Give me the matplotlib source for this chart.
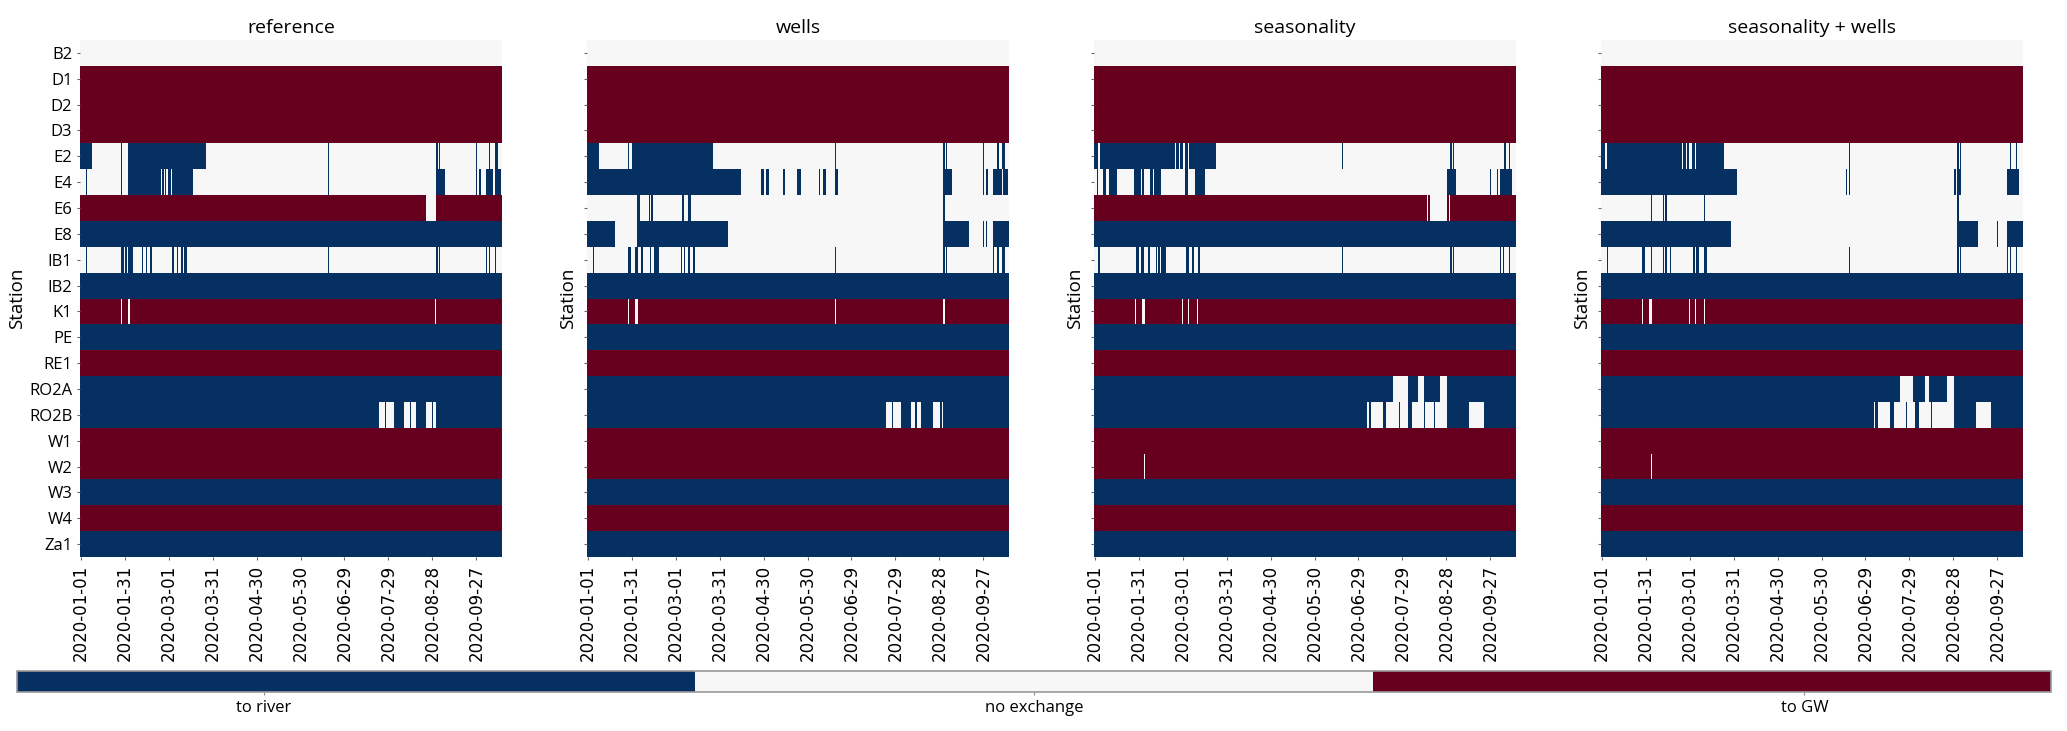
import numpy as np
import pandas as pd
import matplotlib
matplotlib.use('Agg')
import matplotlib.pyplot as plt
from matplotlib.colors import ListedColormap, Normalize

plt.rcParams['font.family'] = ['Open Sans', 'DejaVu Sans']

# exchange direction per station and day: -1 to river, 0 no exchange, 1 to GW
stations = ['B2', 'D1', 'D2', 'D3', 'E2', 'E4', 'E6', 'E8', 'IB1', 'IB2',
            'K1', 'PE', 'RE1', 'RO2A', 'RO2B', 'W1', 'W2', 'W3', 'W4', 'Za1']
n_days = 288
dates = pd.date_range('2020-01-01', periods=n_days, freq='D')

titles = ['reference', 'wells', 'seasonality', 'seasonality + wells']
class_labels = ['to river', 'no exchange', 'to GW']

# default value of each station row (same order as stations)
base_no_wells = [0, 1, 1, 1, 0, 0, 1, -1, 0, -1, 1, -1, 1, -1, -1, 1, 1, -1, 1, -1]
base_wells = [0, 1, 1, 1, 0, 0, 0, 0, 0, -1, 1, -1, 1, -1, -1, 1, 1, -1, 1, -1]

# (station, value, [(first_day, last_day), ...]) deviations from the base row
changes_reference = [
    ('E2', -1, [(0, 7), (28, 28), (33, 85), (169, 169), (243, 243), (245, 245),
                (270, 270), (279, 279), (283, 284)]),
    ('E4', -1, [(4, 4), (28, 28), (33, 54), (56, 56), (58, 58), (60, 61), (63, 76),
                (169, 169), (243, 248), (270, 270), (272, 273), (277, 281), (283, 286)]),
    ('E6', 0, [(236, 242)]),
    ('IB1', -1, [(4, 4), (28, 29), (31, 31), (33, 35), (42, 42), (45, 45), (48, 48),
                 (63, 63), (66, 66), (69, 69), (71, 72), (169, 169), (243, 243),
                 (245, 245), (277, 277), (279, 279), (283, 283)]),
    ('K1', 0, [(28, 28), (33, 33), (242, 242)]),
    ('RO2B', 0, [(204, 207), (209, 213), (221, 224), (226, 228), (236, 239), (241, 242)]),
]

changes_wells = [
    ('E2', -1, [(0, 7), (28, 28), (31, 85), (169, 169), (243, 243), (245, 245),
                (270, 270), (280, 280), (283, 284)]),
    ('E4', -1, [(0, 104), (119, 120), (122, 123), (134, 134), (143, 145), (158, 158),
                (161, 162), (169, 170), (243, 248), (270, 270), (272, 273),
                (277, 282), (284, 286)]),
    ('E6', -1, [(34, 35), (42, 42), (44, 44), (65, 65), (69, 70), (243, 243)]),
    ('E8', -1, [(0, 18), (34, 95), (243, 260), (270, 270), (272, 272), (277, 287)]),
    ('IB1', -1, [(4, 4), (28, 29), (33, 34), (37, 37), (43, 43), (46, 48), (64, 64),
                 (66, 66), (69, 69), (72, 73), (169, 169), (243, 243), (245, 245),
                 (277, 277), (280, 280), (283, 284)]),
    ('K1', 0, [(28, 28), (33, 34), (169, 169), (243, 243)]),
    ('RO2B', 0, [(204, 207), (209, 213), (221, 223), (225, 227), (236, 240), (242, 242)]),
]

changes_seasonality = [
    ('E2', -1, [(0, 2), (4, 54), (56, 57), (59, 60), (62, 63), (65, 82), (169, 169),
                (243, 243), (245, 245), (280, 280), (283, 283)]),
    ('E4', -1, [(2, 2), (6, 7), (10, 15), (27, 31), (33, 33), (38, 39), (41, 45),
                (62, 63), (69, 75), (241, 246), (270, 270), (275, 275), (277, 284)]),
    ('E6', 0, [(227, 227), (229, 240), (242, 242)]),
    ('IB1', -1, [(3, 3), (29, 30), (32, 33), (37, 37), (42, 42), (44, 44), (46, 48),
                 (63, 64), (67, 67), (71, 71), (169, 169), (243, 243), (245, 245),
                 (277, 277), (279, 279), (283, 283)]),
    ('K1', 0, [(28, 28), (33, 34), (60, 60), (64, 64), (70, 70)]),
    ('RO2A', 0, [(204, 213), (221, 224), (236, 240)]),
    ('RO2B', 0, [(186, 187), (189, 196), (199, 207), (209, 213), (217, 224),
                 (226, 231), (233, 240), (256, 265)]),
    ('W2', 0, [(34, 34)]),
]

changes_seasonality_wells = [
    ('E2', -1, [(0, 2), (4, 54), (56, 57), (59, 59), (62, 63), (65, 83), (169, 169),
                (243, 243), (245, 245), (279, 279), (283, 283)]),
    ('E4', -1, [(0, 92), (167, 167), (169, 169), (241, 241), (243, 245), (277, 284)]),
    ('E6', -1, [(34, 34), (42, 42), (44, 44), (70, 70), (243, 243)]),
    ('E8', -1, [(0, 88), (243, 256), (270, 270), (277, 287)]),
    ('IB1', -1, [(4, 4), (28, 29), (34, 34), (42, 42), (44, 44), (47, 47), (63, 63),
                 (65, 66), (70, 71), (169, 169), (243, 243), (245, 245), (277, 277),
                 (279, 279), (283, 283)]),
    ('K1', 0, [(28, 28), (33, 34), (60, 60), (64, 64), (70, 70)]),
    ('RO2A', 0, [(204, 212), (221, 223), (236, 240)]),
    ('RO2B', 0, [(186, 186), (189, 196), (200, 207), (209, 213), (217, 224),
                 (226, 231), (232, 240), (256, 265)]),
    ('W2', 0, [(34, 34)]),
]


def build_matrix(base, changes):
    m = np.repeat(np.array(base, dtype=float)[:, None], n_days, axis=1)
    for station, value, spans in changes:
        i = stations.index(station)
        for a, b in spans:
            m[i, a:b + 1] = value
    return m


panels = [
    build_matrix(base_no_wells, changes_reference),
    build_matrix(base_wells, changes_wells),
    build_matrix(base_no_wells, changes_seasonality),
    build_matrix(base_wells, changes_seasonality_wells),
]

cmap = ListedColormap(['#053061', '#f7f7f7', '#67001f'])
norm = Normalize(vmin=-1.32, vmax=1.32)

W, H = 2067, 731
fig = plt.figure(figsize=(W / 100, H / 100), dpi=100)

lefts = [80, 587, 1094, 1601]
tick_idx = np.arange(0, n_days, 30)
tick_labels = [dates[i].strftime('%Y-%m-%d') for i in tick_idx]

mesh = None
for k, m in enumerate(panels):
    ax = fig.add_axes([lefts[k] / W, (H - 557) / H, 422 / W, 517 / H])
    mesh = ax.pcolormesh(np.arange(n_days + 1), np.arange(len(stations) + 1), m,
                         cmap=cmap, norm=norm, edgecolors='none')
    ax.set_xlim(0, n_days)
    ax.set_ylim(len(stations), 0)
    ax.set_yticks(np.arange(len(stations)) + 0.5)
    if k == 0:
        ax.set_yticklabels(stations, fontsize=12)
    else:
        ax.set_yticklabels([])
    ax.set_xticks(tick_idx + 0.5)
    ax.set_xticklabels(tick_labels, rotation=90, fontsize=12, family='DejaVu Sans')
    ax.tick_params(length=2.5, width=0.8, color='#666666', pad=3)
    for s in ax.spines.values():
        s.set_visible(False)
    ax.set_title(titles[k], fontsize=14, pad=5)
    ax.set_ylabel('Station', fontsize=13.5, labelpad=2)

cax = fig.add_axes([17 / W, 39 / H, 2034 / W, 21 / H])
cb = fig.colorbar(mesh, cax=cax, orientation='horizontal', ticks=[-1, 0, 1])
cb.ax.set_xticklabels(class_labels, fontsize=12)
cb.ax.tick_params(length=2.5, width=0.8, color='#888888', pad=3)
cb.outline.set_edgecolor('#999999')
cb.outline.set_linewidth(1.2)

fig.savefig('out.png', dpi=100)
